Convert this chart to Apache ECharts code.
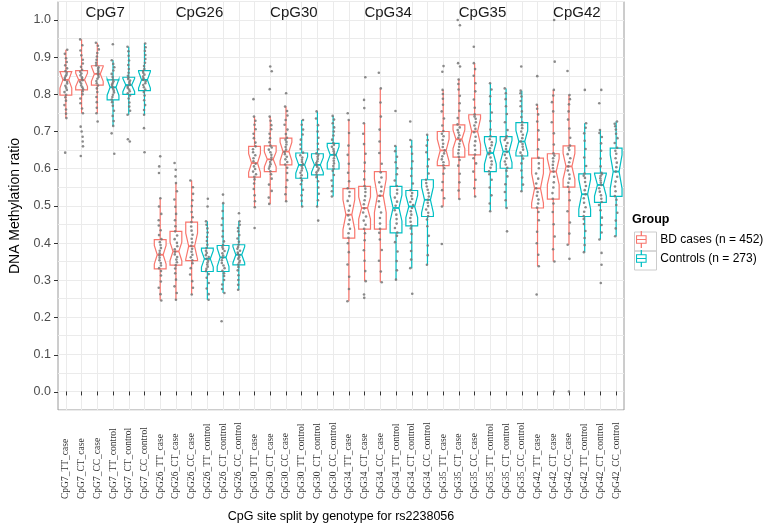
<!DOCTYPE html>
<html>
<head>
<meta charset="utf-8">
<script src="https://cdn.jsdelivr.net/npm/echarts@6/dist/echarts.min.js"></script>
<style>
  html, body { margin: 0; padding: 0; background: #fff; }
  #chart { width: 768px; height: 528px; }
</style>
</head>
<body>
<div id="chart"></div>
<script>
const categories = [
  'CpG7_TT_case', 'CpG7_CT_case', 'CpG7_CC_case', 'CpG7_TT_control', 'CpG7_CT_control', 'CpG7_CC_control',
  'CpG26_TT_case', 'CpG26_CT_case', 'CpG26_CC_case', 'CpG26_TT_control', 'CpG26_CT_control', 'CpG26_CC_control',
  'CpG30_TT_case', 'CpG30_CT_case', 'CpG30_CC_case', 'CpG30_TT_control', 'CpG30_CT_control', 'CpG30_CC_control',
  'CpG34_TT_case', 'CpG34_CT_case', 'CpG34_CC_case', 'CpG34_TT_control', 'CpG34_CT_control', 'CpG34_CC_control',
  'CpG35_TT_case', 'CpG35_CT_case', 'CpG35_CC_case', 'CpG35_TT_control', 'CpG35_CT_control', 'CpG35_CC_control',
  'CpG42_TT_case', 'CpG42_CT_case', 'CpG42_CC_case', 'CpG42_TT_control', 'CpG42_CT_control', 'CpG42_CC_control'
]
const facets = ['CpG7', 'CpG26', 'CpG30', 'CpG34', 'CpG35', 'CpG42']
const facetAt = [2, 8, 14, 20, 26, 32]

// box stats
const whiskerLow = [0.736, 0.749, 0.749, 0.715, 0.745, 0.745, 0.245, 0.247, 0.261, 0.247, 0.265, 0.274,
  0.496, 0.505, 0.512, 0.498, 0.498, 0.525, 0.243, 0.297, 0.294, 0.301, 0.332, 0.341,
  0.498, 0.518, 0.525, 0.485, 0.494, 0.539, 0.337, 0.350, 0.395, 0.375, 0.409, 0.418]
const q1 = [0.798, 0.812, 0.825, 0.785, 0.800, 0.810, 0.330, 0.340, 0.352, 0.323, 0.323, 0.341,
  0.577, 0.592, 0.610, 0.574, 0.583, 0.599, 0.413, 0.437, 0.437, 0.427, 0.446, 0.471,
  0.608, 0.631, 0.637, 0.592, 0.601, 0.634, 0.494, 0.518, 0.550, 0.471, 0.509, 0.525]
const median = [0.839, 0.839, 0.855, 0.819, 0.825, 0.839, 0.368, 0.377, 0.391, 0.357, 0.361, 0.368,
  0.615, 0.625, 0.646, 0.610, 0.610, 0.637, 0.476, 0.494, 0.527, 0.494, 0.498, 0.516,
  0.649, 0.679, 0.700, 0.642, 0.646, 0.673, 0.547, 0.592, 0.606, 0.531, 0.556, 0.592]
const q3 = [0.861, 0.864, 0.877, 0.839, 0.846, 0.864, 0.409, 0.431, 0.456, 0.386, 0.393, 0.395,
  0.660, 0.661, 0.682, 0.642, 0.640, 0.668, 0.546, 0.552, 0.592, 0.552, 0.541, 0.570,
  0.700, 0.718, 0.745, 0.686, 0.686, 0.724, 0.628, 0.640, 0.661, 0.586, 0.588, 0.655]
const whiskerHigh = [0.920, 0.948, 0.939, 0.892, 0.928, 0.937, 0.520, 0.561, 0.568, 0.458, 0.507, 0.458,
  0.740, 0.740, 0.767, 0.731, 0.754, 0.742, 0.731, 0.722, 0.816, 0.661, 0.677, 0.691,
  0.812, 0.840, 0.884, 0.830, 0.816, 0.810, 0.772, 0.812, 0.798, 0.722, 0.704, 0.727]
const notch = [0.022, 0.018, 0.020, 0.022, 0.018, 0.022, 0.025, 0.025, 0.035, 0.022, 0.025, 0.022,
  0.025, 0.020, 0.025, 0.022, 0.020, 0.022, 0.040, 0.030, 0.045, 0.035, 0.030, 0.035,
  0.030, 0.025, 0.035, 0.030, 0.030, 0.030, 0.040, 0.035, 0.035, 0.040, 0.030, 0.045]

// individual samples (a readable subset of the strips, plus the stray points)
const points = [
  [0.736, 0.748, 0.759, 0.771, 0.783, 0.792, 0.799, 0.806, 0.812, 0.818, 0.823, 0.829, 0.834, 0.839, 0.844, 0.849, 0.853, 0.858, 0.863, 0.870, 0.878, 0.887, 0.897, 0.909, 0.920, 0.643],
  [0.749, 0.762, 0.776, 0.789, 0.800, 0.808, 0.814, 0.819, 0.824, 0.829, 0.834, 0.838, 0.842, 0.846, 0.851, 0.856, 0.861, 0.866, 0.874, 0.883, 0.893, 0.905, 0.918, 0.932, 0.948, 0.713, 0.700, 0.686, 0.673, 0.660, 0.634],
  [0.749, 0.764, 0.779, 0.793, 0.806, 0.816, 0.824, 0.830, 0.836, 0.842, 0.847, 0.852, 0.856, 0.860, 0.864, 0.869, 0.873, 0.878, 0.885, 0.893, 0.902, 0.911, 0.921, 0.931, 0.939, 0.727],
  [0.715, 0.728, 0.742, 0.756, 0.769, 0.779, 0.786, 0.793, 0.799, 0.805, 0.810, 0.815, 0.819, 0.823, 0.827, 0.831, 0.835, 0.840, 0.847, 0.855, 0.864, 0.873, 0.882, 0.892, 0.935, 0.695, 0.640],
  [0.745, 0.756, 0.767, 0.778, 0.789, 0.797, 0.803, 0.808, 0.813, 0.817, 0.821, 0.825, 0.829, 0.833, 0.837, 0.841, 0.845, 0.850, 0.858, 0.868, 0.879, 0.891, 0.904, 0.916, 0.928, 0.679, 0.673],
  [0.745, 0.758, 0.771, 0.784, 0.797, 0.806, 0.813, 0.819, 0.825, 0.830, 0.835, 0.839, 0.843, 0.848, 0.853, 0.858, 0.863, 0.868, 0.876, 0.885, 0.895, 0.906, 0.917, 0.927, 0.937, 0.709, 0.644],
  [0.245, 0.262, 0.279, 0.296, 0.312, 0.324, 0.332, 0.339, 0.346, 0.353, 0.360, 0.366, 0.372, 0.379, 0.386, 0.394, 0.402, 0.410, 0.421, 0.434, 0.447, 0.461, 0.478, 0.498, 0.520, 0.633, 0.606, 0.588],
  [0.247, 0.265, 0.283, 0.301, 0.318, 0.331, 0.340, 0.348, 0.355, 0.362, 0.369, 0.376, 0.383, 0.391, 0.400, 0.410, 0.420, 0.431, 0.445, 0.461, 0.478, 0.497, 0.517, 0.539, 0.561, 0.615, 0.597, 0.579],
  [0.261, 0.279, 0.297, 0.315, 0.332, 0.345, 0.353, 0.361, 0.368, 0.376, 0.384, 0.392, 0.401, 0.411, 0.422, 0.433, 0.444, 0.456, 0.469, 0.483, 0.499, 0.515, 0.532, 0.550, 0.568],
  [0.247, 0.262, 0.277, 0.292, 0.306, 0.316, 0.324, 0.330, 0.336, 0.342, 0.347, 0.352, 0.357, 0.362, 0.367, 0.373, 0.379, 0.386, 0.395, 0.405, 0.416, 0.428, 0.439, 0.449, 0.458, 0.519, 0.498],
  [0.265, 0.276, 0.288, 0.300, 0.311, 0.318, 0.325, 0.332, 0.339, 0.346, 0.353, 0.360, 0.366, 0.372, 0.378, 0.384, 0.389, 0.394, 0.404, 0.417, 0.432, 0.448, 0.466, 0.486, 0.507, 0.530, 0.189],
  [0.274, 0.287, 0.300, 0.313, 0.326, 0.335, 0.342, 0.347, 0.352, 0.357, 0.361, 0.366, 0.370, 0.374, 0.379, 0.384, 0.389, 0.395, 0.403, 0.412, 0.421, 0.431, 0.440, 0.449, 0.458, 0.480],
  [0.496, 0.512, 0.528, 0.545, 0.560, 0.571, 0.578, 0.585, 0.592, 0.599, 0.606, 0.613, 0.620, 0.628, 0.636, 0.644, 0.652, 0.660, 0.670, 0.682, 0.694, 0.706, 0.718, 0.729, 0.740, 0.787, 0.440],
  [0.505, 0.522, 0.540, 0.557, 0.573, 0.585, 0.593, 0.600, 0.606, 0.612, 0.618, 0.624, 0.630, 0.637, 0.644, 0.651, 0.657, 0.662, 0.671, 0.682, 0.694, 0.706, 0.717, 0.729, 0.740, 0.875, 0.862, 0.814],
  [0.512, 0.531, 0.550, 0.569, 0.588, 0.602, 0.611, 0.618, 0.625, 0.632, 0.639, 0.645, 0.651, 0.658, 0.665, 0.672, 0.678, 0.683, 0.693, 0.705, 0.718, 0.731, 0.743, 0.755, 0.767, 0.803],
  [0.498, 0.513, 0.528, 0.543, 0.558, 0.568, 0.575, 0.582, 0.589, 0.595, 0.601, 0.607, 0.612, 0.618, 0.624, 0.630, 0.636, 0.643, 0.653, 0.665, 0.678, 0.692, 0.705, 0.718, 0.731],
  [0.498, 0.515, 0.532, 0.549, 0.566, 0.577, 0.584, 0.590, 0.595, 0.600, 0.605, 0.610, 0.615, 0.620, 0.626, 0.632, 0.637, 0.641, 0.652, 0.667, 0.683, 0.700, 0.717, 0.735, 0.754, 0.460],
  [0.525, 0.539, 0.553, 0.568, 0.583, 0.594, 0.600, 0.607, 0.614, 0.621, 0.628, 0.635, 0.641, 0.647, 0.653, 0.659, 0.664, 0.669, 0.678, 0.689, 0.700, 0.711, 0.722, 0.732, 0.742],
  [0.243, 0.276, 0.309, 0.342, 0.375, 0.399, 0.414, 0.426, 0.438, 0.450, 0.462, 0.474, 0.487, 0.500, 0.513, 0.526, 0.537, 0.547, 0.566, 0.589, 0.613, 0.637, 0.662, 0.696, 0.731, 0.749],
  [0.297, 0.324, 0.352, 0.380, 0.407, 0.426, 0.438, 0.449, 0.460, 0.471, 0.482, 0.493, 0.504, 0.515, 0.526, 0.537, 0.546, 0.553, 0.571, 0.593, 0.616, 0.640, 0.666, 0.694, 0.722, 0.846, 0.785, 0.763, 0.261, 0.252],
  [0.294, 0.323, 0.352, 0.381, 0.409, 0.427, 0.438, 0.452, 0.467, 0.482, 0.497, 0.512, 0.527, 0.539, 0.551, 0.563, 0.576, 0.590, 0.613, 0.642, 0.673, 0.705, 0.740, 0.778, 0.816, 0.858],
  [0.301, 0.326, 0.351, 0.377, 0.402, 0.419, 0.428, 0.440, 0.452, 0.464, 0.476, 0.488, 0.500, 0.511, 0.522, 0.533, 0.543, 0.553, 0.568, 0.585, 0.601, 0.617, 0.632, 0.647, 0.661, 0.755],
  [0.332, 0.355, 0.378, 0.401, 0.424, 0.439, 0.447, 0.457, 0.467, 0.476, 0.485, 0.494, 0.502, 0.510, 0.518, 0.526, 0.534, 0.542, 0.560, 0.580, 0.600, 0.620, 0.640, 0.659, 0.677, 0.727, 0.263],
  [0.341, 0.367, 0.393, 0.419, 0.445, 0.463, 0.472, 0.481, 0.490, 0.499, 0.508, 0.516, 0.525, 0.534, 0.543, 0.552, 0.561, 0.570, 0.587, 0.606, 0.625, 0.644, 0.662, 0.677, 0.691],
  [0.498, 0.520, 0.542, 0.564, 0.586, 0.601, 0.609, 0.617, 0.625, 0.633, 0.641, 0.649, 0.658, 0.667, 0.677, 0.687, 0.694, 0.701, 0.716, 0.735, 0.754, 0.772, 0.788, 0.801, 0.812, 0.876, 0.861, 0.397],
  [0.518, 0.541, 0.563, 0.586, 0.608, 0.623, 0.632, 0.641, 0.650, 0.659, 0.667, 0.675, 0.683, 0.690, 0.697, 0.704, 0.711, 0.719, 0.736, 0.756, 0.776, 0.796, 0.813, 0.828, 0.840, 1.000, 0.986, 0.884, 0.875],
  [0.525, 0.547, 0.570, 0.592, 0.614, 0.628, 0.638, 0.650, 0.662, 0.674, 0.686, 0.698, 0.707, 0.716, 0.725, 0.734, 0.740, 0.746, 0.764, 0.786, 0.808, 0.830, 0.850, 0.868, 0.884, 0.928],
  [0.485, 0.506, 0.528, 0.549, 0.570, 0.585, 0.593, 0.602, 0.611, 0.620, 0.630, 0.639, 0.647, 0.655, 0.663, 0.671, 0.679, 0.687, 0.705, 0.728, 0.751, 0.774, 0.795, 0.813, 0.830],
  [0.494, 0.515, 0.537, 0.558, 0.579, 0.594, 0.602, 0.611, 0.619, 0.628, 0.637, 0.645, 0.653, 0.661, 0.669, 0.677, 0.682, 0.687, 0.704, 0.725, 0.747, 0.768, 0.787, 0.803, 0.816, 0.431],
  [0.539, 0.557, 0.576, 0.595, 0.614, 0.627, 0.635, 0.643, 0.651, 0.659, 0.666, 0.673, 0.682, 0.691, 0.700, 0.709, 0.717, 0.725, 0.739, 0.754, 0.768, 0.782, 0.794, 0.803, 0.810, 0.875],
  [0.337, 0.368, 0.399, 0.430, 0.461, 0.483, 0.495, 0.506, 0.517, 0.527, 0.537, 0.547, 0.560, 0.573, 0.587, 0.601, 0.614, 0.629, 0.652, 0.678, 0.703, 0.727, 0.746, 0.761, 0.772, 0.849, 0.261],
  [0.350, 0.383, 0.417, 0.450, 0.483, 0.506, 0.519, 0.534, 0.549, 0.563, 0.578, 0.592, 0.601, 0.610, 0.619, 0.628, 0.635, 0.641, 0.665, 0.695, 0.725, 0.754, 0.779, 0.797, 0.812, 1.000, 0.888, 0.000],
  [0.395, 0.425, 0.455, 0.485, 0.515, 0.537, 0.551, 0.562, 0.573, 0.584, 0.595, 0.606, 0.617, 0.628, 0.639, 0.650, 0.656, 0.662, 0.683, 0.708, 0.732, 0.754, 0.773, 0.787, 0.798, 0.863, 0.357, 0.000],
  [0.375, 0.394, 0.413, 0.432, 0.451, 0.464, 0.472, 0.484, 0.496, 0.508, 0.520, 0.531, 0.542, 0.553, 0.564, 0.575, 0.581, 0.587, 0.607, 0.630, 0.653, 0.675, 0.695, 0.710, 0.722, 0.812],
  [0.409, 0.428, 0.448, 0.468, 0.488, 0.502, 0.510, 0.519, 0.528, 0.538, 0.547, 0.556, 0.562, 0.568, 0.574, 0.580, 0.585, 0.589, 0.606, 0.627, 0.648, 0.668, 0.685, 0.696, 0.704, 0.812, 0.776, 0.373, 0.341, 0.292],
  [0.418, 0.439, 0.460, 0.481, 0.502, 0.516, 0.526, 0.539, 0.552, 0.565, 0.578, 0.592, 0.604, 0.616, 0.628, 0.640, 0.648, 0.656, 0.669, 0.682, 0.694, 0.705, 0.714, 0.721, 0.727]
]

const groupNames = ['BD cases (n = 452)', 'Controls (n = 273)']
const groupColors = ['#F8766D', '#00BFC4']

const SANS = '"Liberation Sans", Arial, sans-serif'
const SERIF = '"Liberation Serif", "Times New Roman", serif'

// little boxplot glyph for the legend keys (filled strips, 10 x 16)
const keyIcon = 'path://M4.4,0H5.6V4H4.4ZM0,4H10V5H0ZM0,11H10V12H0ZM0,4H1V12H0ZM9,4H10V12H9ZM0,7.5H10V8.5H0ZM4.4,12H5.6V16H4.4Z'

function boxRows (isCase) {
  const rows = []
  categories.forEach((c, i) => {
    if (c.endsWith('_case') === isCase) {
      rows.push([i, whiskerLow[i], q1[i], median[i], q3[i], whiskerHigh[i], notch[i]])
    }
  })
  return rows
}

const pointRows = []
points.forEach((vals, i) => {
  vals.forEach(v => pointRows.push([i, v]))
})

function renderBox (params, api) {
  const i = api.value(0)
  const band = api.size([1, 0])[0]
  const half = band * 0.75 / 2
  const ind = half * 0.5
  const cx = api.coord([i, 0])[0]
  const y = k => api.coord([i, api.value(k)])[1]
  const yLow = y(1)
  const yQ1 = y(2)
  const yMed = y(3)
  const yQ3 = y(4)
  const yHigh = y(5)
  const yNu = api.coord([i, api.value(3) + api.value(6)])[1]
  const yNl = api.coord([i, api.value(3) - api.value(6)])[1]
  const color = api.visual('color')
  const l = cx - half
  const r = cx + half
  const stroke = { stroke: color, lineWidth: 1.2, fill: null }
  return {
    type: 'group',
    children: [
      { type: 'line', shape: { x1: cx, y1: yQ3, x2: cx, y2: yHigh }, style: stroke },
      { type: 'line', shape: { x1: cx, y1: yQ1, x2: cx, y2: yLow }, style: stroke },
      {
        type: 'polygon',
        shape: {
          points: [[l, yQ3], [l, yNu], [l + ind, yMed], [l, yNl], [l, yQ1],
            [r, yQ1], [r, yNl], [r - ind, yMed], [r, yNu], [r, yQ3]]
        },
        style: { fill: '#fff', stroke: color, lineWidth: 1.2 }
      },
      { type: 'line', shape: { x1: l + ind, y1: yMed, x2: r - ind, y2: yMed }, style: { stroke: color, lineWidth: 1.8 } }
    ]
  }
}

function renderFacet (params, api) {
  const p = api.coord([api.value(0), api.value(1)])
  const band = api.size([1, 0])[0]
  return {
    type: 'text',
    x: p[0] + band / 2,
    y: p[1],
    style: {
      text: facets[params.dataIndex],
      fill: '#1a1a1a',
      fontSize: 15,
      fontFamily: SANS,
      align: 'center',
      verticalAlign: 'middle'
    }
  }
}

const chart = echarts.init(document.getElementById('chart'))
chart.setOption({
  backgroundColor: '#ffffff',
  animation: false,
  title: {
    text: 'Group',
    left: 632,
    top: 213,
    padding: 0,
    textStyle: { fontFamily: SANS, fontSize: 12.5, fontWeight: 'bold', color: '#000' }
  },
  legend: {
    data: groupNames.map(n => ({ name: n, icon: keyIcon })),
    orient: 'vertical',
    left: 636,
    top: 231,
    padding: 0,
    itemGap: 2,
    itemWidth: 14,
    itemHeight: 17,
    textStyle: { fontFamily: SANS, fontSize: 12, color: '#000', lineHeight: 17, padding: [0, 0, 0, 7] },
    selectedMode: false
  },
  graphic: [
    { type: 'rect', left: 632, top: 229.5, shape: { width: 22, height: 19 }, style: { fill: 'none', stroke: '#cccccc', lineWidth: 1 }, z: -1 },
    { type: 'rect', left: 632, top: 248.5, shape: { width: 22, height: 19 }, style: { fill: 'none', stroke: '#cccccc', lineWidth: 1 }, z: -1 }
  ],
  grid: [
    { left: 58, right: 144, top: 1.5, bottom: 117.5, show: true, borderColor: '#9a9a9a', borderWidth: 1, backgroundColor: '#fff' },
    { left: 58, right: 144, top: 20, bottom: 136 }
  ],
  xAxis: [
    {
      type: 'category',
      gridIndex: 0,
      data: categories,
      jitter: 3,
      name: 'CpG site split by genotype for rs2238056',
      nameLocation: 'middle',
      nameGap: 100,
      nameTextStyle: { fontFamily: SANS, fontSize: 12.5, color: '#000' },
      axisLine: { show: false },
      axisTick: { show: true, alignWithLabel: true, length: 4, lineStyle: { color: '#333' } },
      axisLabel: {
        interval: 0,
        rotate: 90,
        align: 'left',
        verticalAlign: 'middle',
        margin: 89,
        fontFamily: SERIF,
        fontSize: 9.5,
        color: '#333'
      },
      splitLine: { show: true, interval: 0, alignWithLabel: true, lineStyle: { color: '#ebebeb', width: 1 } }
    },
    { type: 'value', gridIndex: 1, show: false, min: 0, max: 1 }
  ],
  yAxis: [
    {
      type: 'value',
      gridIndex: 0,
      min: -0.05,
      max: 1.05,
      interval: 0.05,
      axisLine: { show: false },
      axisTick: { show: false },
      axisLabel: { show: false },
      splitLine: { show: true, lineStyle: { color: '#ebebeb', width: 1 } }
    },
    {
      type: 'value',
      gridIndex: 1,
      min: 0,
      max: 1,
      interval: 0.1,
      name: 'DNA Methylation ratio',
      nameLocation: 'middle',
      nameGap: 36,
      nameTextStyle: { fontFamily: SANS, fontSize: 14, color: '#000' },
      axisLine: { show: false },
      axisTick: { show: true, length: 4, lineStyle: { color: '#333' } },
      axisLabel: { formatter: v => v.toFixed(1), fontFamily: SANS, fontSize: 12.5, color: '#4d4d4d', margin: 7 },
      splitLine: { show: false }
    }
  ],
  series: [
    {
      name: groupNames[0],
      type: 'custom',
      xAxisIndex: 0,
      yAxisIndex: 0,
      itemStyle: { color: groupColors[0] },
      encode: { x: 0, y: [1, 2, 3, 4, 5] },
      renderItem: renderBox,
      data: boxRows(true),
      silent: true,
      z: 2
    },
    {
      name: groupNames[1],
      type: 'custom',
      xAxisIndex: 0,
      yAxisIndex: 0,
      itemStyle: { color: groupColors[1] },
      encode: { x: 0, y: [1, 2, 3, 4, 5] },
      renderItem: renderBox,
      data: boxRows(false),
      silent: true,
      z: 2
    },
    {
      name: 'samples',
      type: 'scatter',
      xAxisIndex: 0,
      yAxisIndex: 0,
      symbolSize: 2.6,
      itemStyle: { color: '#777777', opacity: 0.85 },
      data: pointRows,
      silent: true,
      z: 3
    },
    {
      name: 'facets',
      type: 'custom',
      xAxisIndex: 0,
      yAxisIndex: 0,
      renderItem: renderFacet,
      data: facetAt.map(c => [c, 1.019]),
      silent: true,
      z: 4
    }
  ]
})
</script>
</body>
</html>
